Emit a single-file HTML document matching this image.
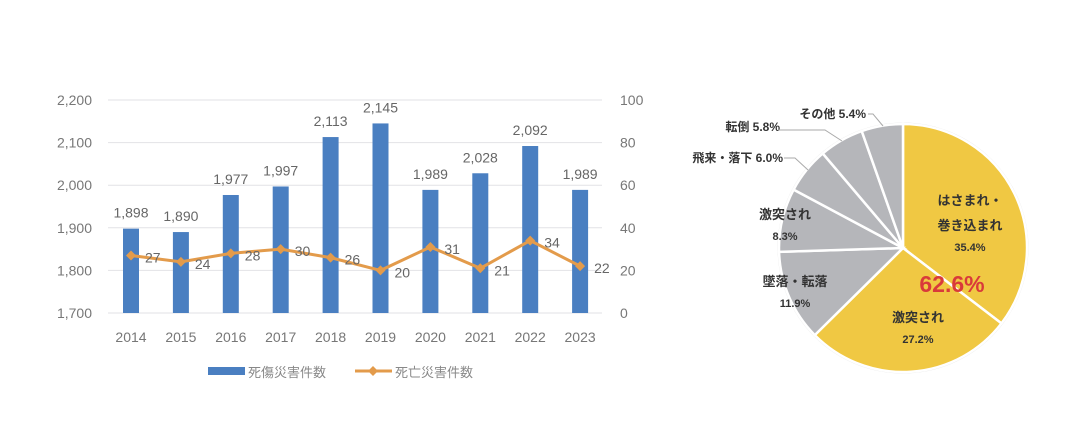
<!DOCTYPE html>
<html><head><meta charset="utf-8"><style>
body{margin:0;background:#fff;}
svg{display:block;font-family:"Liberation Sans","Noto Sans CJK JP",sans-serif;}
</style></head><body>
<svg id="s" width="1090" height="442" viewBox="0 0 1090 442">
<rect width="1090" height="442" fill="#fff"/>
</svg>
<script>
const s=document.getElementById('s');let h='';
const yL=v=>313-(v-1700)*213/500, yR=v=>313-v*2.13;
for(let i=0;i<=5;i++){const y=yL(1700+i*100);
h+=`<line x1="108" x2="602" y1="${y}" y2="${y}" stroke="#e2e2e6" stroke-width="1"/>`;
h+=`<text x="92" y="${y+5}" font-size="14" fill="#777" text-anchor="end">${(1700+i*100).toLocaleString('en-US')}</text>`;
h+=`<text x="620" y="${y+5}" font-size="14" fill="#777">${i*20}</text>`;}
const yrs=[2014,2015,2016,2017,2018,2019,2020,2021,2022,2023];
const B=[1898,1890,1977,1997,2113,2145,1989,2028,2092,1989];
const D=[27,24,28,30,26,20,31,21,34,22];
let pts=[];
yrs.forEach((yr,i)=>{const x=131+i*49.9;const y=yL(B[i]);
h+=`<rect x="${x-8}" y="${y}" width="16" height="${313-y}" fill="#4a7fc1"/>`;
h+=`<text x="${x}" y="${y-11}" font-size="14" fill="#666" text-anchor="middle">${B[i].toLocaleString('en-US')}</text>`;
h+=`<text x="${x}" y="342" font-size="14" fill="#777" text-anchor="middle">${yr}</text>`;
pts.push([x,yR(D[i])]);});
h+=`<polyline points="${pts.map(p=>p.join(',')).join(' ')}" fill="none" stroke="#e39b4b" stroke-width="3"/>`;
pts.forEach((p,i)=>{h+=`<path d="M${p[0]} ${p[1]-5}L${p[0]+5} ${p[1]}L${p[0]} ${p[1]+5}L${p[0]-5} ${p[1]}Z" fill="#e39b4b"/>`;
h+=`<text x="${p[0]+14}" y="${p[1]+7}" font-size="14" fill="#666">${D[i]}</text>`;});
h+=`<rect x="208" y="367" width="37" height="8" fill="#4a7fc1"/><text x="248" y="377" font-size="13" fill="#888">死傷災害件数</text>`;
h+=`<line x1="355" x2="392" y1="371" y2="371" stroke="#e39b4b" stroke-width="3"/><path d="M373 366L378 371L373 376L368 371Z" fill="#e39b4b"/><text x="395" y="377" font-size="13" fill="#888">死亡災害件数</text>`;
const cx=903,cy=248,r=124;const P=[35.4,27.2,11.9,8.3,6.0,5.8,5.4];const C=['#f0c843','#f0c843','#b5b6ba','#b5b6ba','#b5b6ba','#b5b6ba','#b5b6ba'];
let a=0;const tot=P.reduce((x,y)=>x+y);
h+=`<circle cx="${cx}" cy="${cy}" r="${r+1.5}" fill="#e8e8e8"/>`;
P.forEach((p,i)=>{const a1=a+p/tot*2*Math.PI;
const X=t=>cx+r*Math.sin(t),Y=t=>cy-r*Math.cos(t);
h+=`<path d="M${cx} ${cy}L${X(a)} ${Y(a)}A${r} ${r} 0 ${a1-a>Math.PI?1:0} 1 ${X(a1)} ${Y(a1)}Z" fill="${C[i]}" stroke="#fff" stroke-width="2.5"/>`;a=a1;});
const T=(x,y,t,sz,fw,col,anc)=>h+=`<text x="${x}" y="${y}" font-size="${sz||12}" font-weight="${fw||'bold'}" fill="${col||'#333'}" text-anchor="${anc||'middle'}">${t}</text>`;
T(970,205,'はさまれ・',13);T(970,230,'巻き込まれ',13);T(970,251,'35.4%',11);
T(952,292,'62.6%',23,'bold','#d93a3a');
T(918,322,'激突され',13);T(918,343,'27.2%',11);
T(795,286,'墜落・転落',13);T(795,307,'11.9%',11);
T(785,219,'激突され',13);T(785,240,'8.3%',11);
T(783,162,'飛来・落下 6.0%',12,'bold','#333','end');
T(780,131,'転倒 5.8%',12,'bold','#333','end');
T(866,118,'その他 5.4%',12,'bold','#333','end');
h+=`<polyline points="784,158 795,158 808,170" fill="none" stroke="#aaa"/>`;
h+=`<polyline points="778,130 825,130 842,141" fill="none" stroke="#aaa"/>`;
h+=`<polyline points="868,114 873,114 883,126" fill="none" stroke="#aaa"/>`;
s.innerHTML+=h;
</script>
</body></html>
